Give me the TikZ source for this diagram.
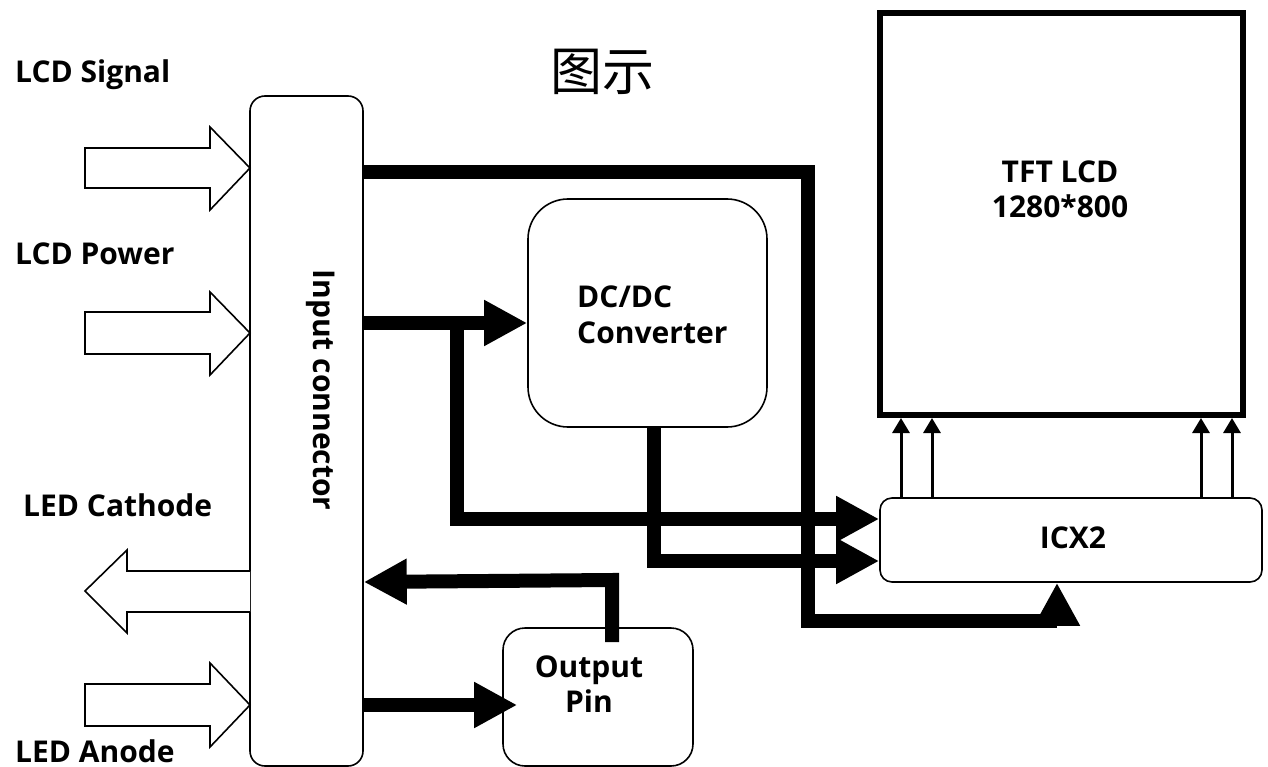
\documentclass[tikz,border=0pt]{standalone}
\usepackage{fontspec}
\setmainfont{Open Sans}
\newfontfamily\cjk{Noto Sans CJK SC}
\usetikzlibrary{arrows.meta}
\begin{document}
\begin{tikzpicture}[x=1pt,y=-1pt,
  box/.style={draw,line width=1.6pt,fill=white,rounded corners=#1,inner sep=0pt},
  lbl/.style={font=\fontsize{30}{36}\selectfont\bfseries,inner sep=0pt},
  bus/.style={line width=14pt,line join=miter,-{Triangle[length=43pt,width=43pt]}},
  sig/.style={line width=3pt,-{Triangle[length=15pt,width=17pt]}},
  hollow/.style={draw,line width=1.6pt,fill=white,line join=miter}]
\useasboundingbox (0,0) rectangle (1268,767);

% boxes
\node[box=15pt, minimum width=113pt, minimum height=670pt] (inp) at (306.5,431) {};
\node[box=40pt, minimum width=239pt, minimum height=228pt] (dc) at (647.5,313) {};
\node[box=22pt, minimum width=190pt, minimum height=138pt] (out) at (598,697) {};
\node[box=12pt, minimum width=382pt, minimum height=84pt] (icx) at (1071,540) {};
\node[draw, line width=6pt, minimum width=363pt, minimum height=402pt, inner sep=0pt] (tft) at (1061.5,214) {};

% texts
\node[font=\cjk\fontsize{52}{52}\selectfont, inner sep=0pt] (title) at (602,72) {图示};
\node[lbl, anchor=base west] (t1) at (15,83) {LCD Signal};
\node[lbl, anchor=base west] (t2) at (15,265) {LCD Power};
\node[lbl, anchor=base west] (t3) at (23,516) {LED Cathode};
\node[lbl, anchor=base west] (t4) at (15,762) {LED Anode};
\node[lbl, rotate=-90] (inptxt) at (321,390) {Input connector};
\node[lbl, anchor=base west] (dct1) at (577,307) {DC/DC};
\node[lbl, anchor=base west] (dct2) at (577,343) {Converter};
\node[lbl, anchor=base] (tftt1) at (1060,183) {TFT LCD};
\node[lbl, anchor=base] (tftt2) at (1060,218) {1280*800};
\node[lbl, anchor=base] (icxt) at (1073,548) {ICX2};
\node[lbl, anchor=base] (outt1) at (589,677) {Output};
\node[lbl, anchor=base] (outt2) at (589,712) {Pin};

% hollow block arrows
\draw[hollow] (85,148) -- (210,148) -- (210,127) -- (250,168) -- (210,210) -- (210,188) -- (85,188) -- cycle;
\draw[hollow] (85,312) -- (210,312) -- (210,292) -- (250,333) -- (210,375) -- (210,354) -- (85,354) -- cycle;
\draw[hollow] (250,571) -- (127,571) -- (127,550) -- (85,591) -- (127,633) -- (127,612) -- (250,612);
\draw[hollow] (85,684) -- (210,684) -- (210,663) -- (250,705) -- (210,747) -- (210,726) -- (85,726) -- cycle;

% coordinates
\coordinate (yA) at (0,172);
\coordinate (yB) at (0,323);
\coordinate (yC) at (0,519);
\coordinate (yD) at (0,561);
\coordinate (yE) at (0,582);
\coordinate (yF) at (0,705);
\coordinate (xA) at (1057,0);
\coordinate (xC) at (654,0);
\coordinate (s1) at (901,0);
\coordinate (s2) at (932,0);
\coordinate (s3) at (1201,0);
\coordinate (s4) at (1232,0);

% thick buses
\draw[bus] (inp.east |- yA) -- (808,172) -- (808,621) -- (1057,621) -- (icx.south -| xA);
\draw[bus] (inp.east |- yB) -- (dc.west |- yB);
\draw[bus] (457,323) -- (457,519) -- (icx.west |- yC);
\draw[bus] (dc.south -| xC) -- (654,561) -- (icx.west |- yD);
\draw[bus] (612,642) -- (612,580) -- (inp.east |- yE);
\draw[bus] (inp.east |- yF) -- ([xshift=15pt]out.west |- yF);

% thin signal arrows
\draw[sig] (icx.north -| s1) -- (tft.south -| s1);
\draw[sig] (icx.north -| s2) -- (tft.south -| s2);
\draw[sig] (icx.north -| s3) -- (tft.south -| s3);
\draw[sig] (icx.north -| s4) -- (tft.south -| s4);
\end{tikzpicture}
\end{document}
